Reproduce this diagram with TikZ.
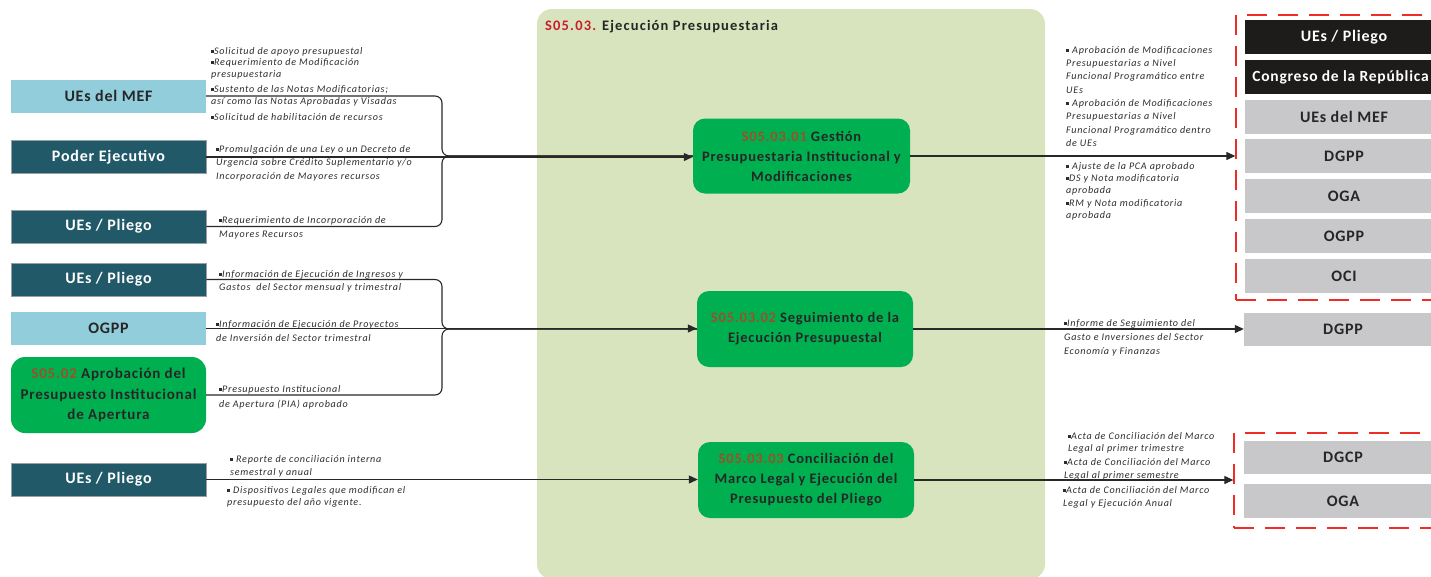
\documentclass[tikz,border=0pt]{standalone}
\usepackage{fontspec}
\setmainfont{Carlito}
% tracked variants of the same family for box and label texts
\newfontfamily\boxfont[LetterSpace=5]{Carlito}
\newfontfamily\procfont[LetterSpace=5.5]{Carlito}
\newfontfamily\titlefont[LetterSpace=8]{Carlito}
\newfontfamily\lblfont[LetterSpace=7]{Carlito}
\usetikzlibrary{arrows.meta}

\definecolor{lblue}{RGB}{146,205,220}
\definecolor{tealbox}{RGB}{33,89,104}
\definecolor{tealedge}{RGB}{150,160,165}
\definecolor{pgreen}{RGB}{0,176,80}
\definecolor{bggreen}{RGB}{215,228,189}
\definecolor{codebrown}{RGB}{156,80,42}
\definecolor{titlered}{RGB}{200,30,45}
\definecolor{txtdark}{RGB}{38,38,38}
\definecolor{lbltext}{RGB}{45,45,45}
\definecolor{boxgray}{RGB}{200,200,202}
\definecolor{boxblack}{RGB}{30,27,27}
\definecolor{linegray}{RGB}{40,40,40}
\definecolor{dashred}{RGB}{238,45,38}

% small square bullet used in the flow labels
\newcommand{\sqbul}{\rule[0.12em]{0.3em}{0.3em}}
\newcommand{\code}[1]{\textcolor{codebrown}{#1}}
\newcommand{\lblsize}[1]{\lblfont\fontsize{10.1}{#1}\selectfont\itshape}

\begin{document}
\begin{tikzpicture}[x=1pt,y=-1pt,
  ent/.style={minimum width=195pt, minimum height=33pt, inner sep=0pt,
    font=\boxfont\fontsize{16}{18}\selectfont\bfseries, text=txtdark},
  lightent/.style={ent, fill=lblue},
  darkent/.style={ent, fill=tealbox, draw=tealedge, line width=0.8pt, text=white},
  proc/.style={rounded corners=12pt, fill=pgreen, minimum width=217pt,
    minimum height=75pt, inner sep=0pt, align=center,
    font=\procfont\fontsize{14.5}{20}\selectfont\bfseries, text=txtdark},
  outgray/.style={minimum width=198pt, minimum height=34pt, inner sep=0pt,
    fill=boxgray, font=\boxfont\fontsize{16}{18}\selectfont\bfseries, text=txtdark},
  outblack/.style={outgray, fill=boxblack, text=white},
  lbl/.style={anchor=north west, inner sep=0pt, align=left, text=lbltext},
  flow/.style={line width=1.1pt, draw=linegray},
  arr/.style={flow, -{Triangle[length=9pt,width=8pt]}},
  redframe/.style={draw=dashred, line width=1.3pt, dash pattern=on 20pt off 11pt,
    inner sep=0pt}
]
\useasboundingbox (0,0) rectangle (1431,576);

% process area
\fill[bggreen, rounded corners=15pt] (537,9) rectangle (1045,579);
\node[anchor=base west, inner sep=0pt, font=\titlefont\fontsize{14.5}{16}\selectfont\bfseries, text=txtdark]
  (title) at (545,30) {\textcolor{titlered}{S05.03.} Ejecución Presupuestaria};

% inputs
\node[lightent] (mef)     at (108.5,96)    {UEs del MEF};
\node[darkent]  (poder)   at (108.5,157)   {Poder Ejecutivo};
\node[darkent]  (pliegoA) at (108.5,226.5) {UEs / Pliego};
\node[darkent]  (pliegoB) at (108.5,279.5) {UEs / Pliego};
\node[lightent] (ogppL)   at (108.5,328.5) {OGPP};
\node[proc, minimum width=195pt, minimum height=76pt, rounded corners=14pt,
  font=\procfont\fontsize{15}{20.5}\selectfont\bfseries]
  (s0502) at (108.5,395) {\code{S05.02} Aprobación del\\Presupuesto Institucional\\de Apertura};
\node[darkent]  (pliegoC) at (108.5,479.5) {UEs / Pliego};

% processes
\node[proc] (box1) at (801.5,156) {\code{S05.03.01} Gestión\\Presupuestaria Institucional y\\Modificaciones};
\node[proc, minimum width=216pt, minimum height=76pt] (box2) at (805,329)
  {\code{S05.03.02} Seguimiento de la\\Ejecución Presupuestal};
\node[proc, minimum width=216pt, minimum height=76pt] (box3) at (806,480)
  {\code{S05.03.03} Conciliación del\\Marco Legal y Ejecución del\\Presupuesto del Pliego};

% outputs
\node[redframe, minimum width=214pt, minimum height=285pt] (frameA) at (1343,157.5) {};
\node[outblack] (uesR)  at (1344,37)    {UEs / Pliego};
\node[outblack, font=\boxfont\fontsize{15.5}{18}\selectfont\bfseries] (cong) at (1344,77)
  {\hspace*{-7pt}Congreso de la República};
\node[outgray]  (mefR)  at (1344,116.5) {UEs del MEF};
\node[outgray]  (dgppA) at (1344,156)   {DGPP};
\node[outgray]  (ogaA)  at (1344,196)   {OGA};
\node[outgray]  (ogppR) at (1344,236)   {OGPP};
\node[outgray]  (oci)   at (1344,276)   {OCI};

\node[outgray, minimum height=33pt] (dgppB) at (1343,329.5) {DGPP};

\node[redframe, minimum width=216pt, minimum height=95pt] (frameB) at (1342,480.5) {};
\node[outgray, minimum height=33pt] (dgcp) at (1343,457.5) {DGCP};
\node[outgray] (ogaB) at (1343,501) {OGA};

% connectors into the processes
\coordinate (jx) at (442,0);
\draw[flow, rounded corners=7pt] (mef.east) -- (mef.east -| jx) -- (jx |- box1.west) -- (box1.west);
\draw[flow, rounded corners=7pt] (pliegoA.east) -- (pliegoA.east -| jx) -- (jx |- box1.west) -- (box1.west);
\draw[arr] (poder.east) -- (poder.east -| box1.west);

\draw[flow, rounded corners=7pt] (pliegoB.east) -- (pliegoB.east -| jx) -- (jx |- box2.west) -- (box2.west);
\draw[flow, rounded corners=7pt] (s0502.east) -- (s0502.east -| jx) -- (jx |- box2.west) -- (box2.west);
\draw[arr] (ogppL.east) -- (ogppL.east -| box2.west);

\draw[arr] (pliegoC.east) -- (pliegoC.east -| box3.west);

% connectors out of the processes
\draw[arr] (box1.east) -- (box1.east -| frameA.west);
\draw[arr] (box2.east) -- (box2.east -| dgppB.west);
\draw[arr] (box3.east) -- (box3.east -| frameB.west);

% flow labels, inputs
\node[lbl, font=\lblsize{12}] (l1a) at (211,47) {\sqbul Solicitud de apoyo presupuestal};
\node[lbl, font=\lblsize{12}] (l1b) at (211,58) {\sqbul Requerimiento de Modificación\\presupuestaria};
\node[lbl, font=\lblsize{12}] (l1c) at (211,85) {\sqbul Sustento de las Notas Modificatorias;\\así como las Notas Aprobadas y Visadas};
\node[lbl, font=\lblsize{12}] (l1d) at (211,113) {\sqbul Solicitud de habilitación de recursos};
\node[lbl, font=\lblsize{13.5}] (l2) at (216,145)
  {\sqbul Promulgación de una Ley o un Decreto de\\Urgencia sobre Crédito Suplementario y/o\\Incorporación de Mayores recursos};
\node[lbl, font=\lblsize{14}] (l3) at (219,216)
  {\sqbul Requerimiento de Incorporación de\\Mayores Recursos};
\node[lbl, font=\lblsize{13}] (l4) at (219,270)
  {\sqbul Información de Ejecución de Ingresos y\\Gastos\ \ del Sector mensual y trimestral};
\node[lbl, font=\lblsize{14}] (l5) at (216,320)
  {\sqbul Información de Ejecución de Proyectos\\de Inversión del Sector trimestral};
\node[lbl, font=\lblsize{15}] (l6) at (219,385)
  {\sqbul Presupuesto Institucional\\de Apertura (PIA) aprobado};
\node[lbl, font=\lblsize{13}] (l7) at (230,455)
  {\sqbul{} Reporte de conciliación interna\\semestral y anual};
\node[lbl, font=\lblsize{12}] (l8) at (227,486)
  {\sqbul{} Dispositivos Legales que modifican el\\presupuesto del año vigente.};

% flow labels, outputs
\node[lbl, font=\lblsize{13.3}] (r1) at (1066,46)
  {\sqbul{} Aprobación de Modificaciones\\Presupuestarias a Nivel\\Funcional Programático entre\\UEs\\
   \sqbul{} Aprobación de Modificaciones\\Presupuestarias a Nivel\\Funcional Programático dentro\\de UEs};
\node[lbl, font=\lblsize{12.3}] (r2) at (1066,162)
  {\sqbul{} Ajuste de la PCA aprobado\\\sqbul DS y Nota modificatoria\\aprobada\\\sqbul RM y Nota modificatoria\\aprobada};
\node[lbl, font=\lblsize{14}] (r3) at (1064,319)
  {\sqbul Informe de Seguimiento del\\Gasto e Inversiones del Sector\\Economía y Finanzas};
\node[lbl, font=\lblsize{12.5}] (r4a) at (1068,432)
  {\sqbul Acta de Conciliación del Marco\\Legal al primer trimestre};
\node[lbl, font=\lblsize{13}] (r4b) at (1064,458)
  {\sqbul Acta de Conciliación del Marco\\Legal al primer semestre};
\node[lbl, font=\lblsize{13}] (r4c) at (1063,486)
  {\sqbul Acta de Conciliación del Marco\\Legal y Ejecución Anual};
\end{tikzpicture}
\end{document}
